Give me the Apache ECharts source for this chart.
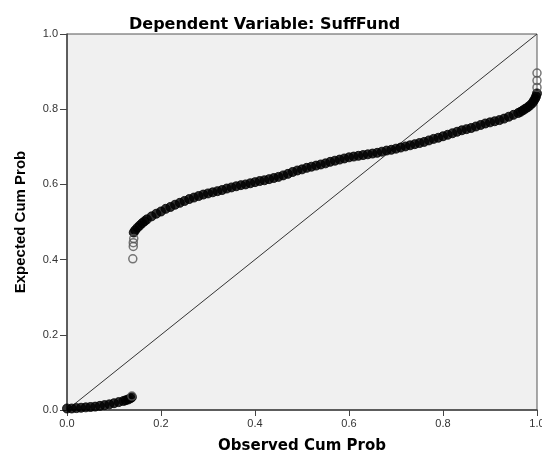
<!DOCTYPE html>
<html>
<head>
<meta charset="utf-8">
<script src="https://cdn.jsdelivr.net/npm/echarts@6/dist/echarts.min.js"></script>
<style>
  html, body { margin: 0; padding: 0; background: #fff; }
  #chartBox { width: 542px; height: 453px; }
</style>
</head>
<body>
<div id="chartBox"></div>
<script>
// P-P 图: Dependent Variable: SuffFund
var axisTicks = [0, 0.2, 0.4, 0.6, 0.8, 1.0];

// 下段 (观测累计概率, 期望累计概率)
var lowerObs = [0.00, 0.01, 0.02, 0.03, 0.04, 0.05, 0.06, 0.07, 0.08, 0.09, 0.10, 0.11, 0.12, 0.125, 0.13, 0.135, 0.138];
var lowerExp = [0.004, 0.004, 0.005, 0.006, 0.007, 0.008, 0.009, 0.011, 0.013, 0.015, 0.018, 0.021, 0.024, 0.026, 0.028, 0.031, 0.034];

// 上段
var upperObs = [0.142, 0.145, 0.15, 0.155, 0.16, 0.165, 0.17, 0.18, 0.19, 0.20, 0.21, 0.22, 0.23, 0.24, 0.25, 0.26, 0.27, 0.28, 0.29,
  0.30, 0.31, 0.32, 0.33, 0.34, 0.35, 0.36, 0.37, 0.38, 0.39, 0.40, 0.41, 0.42, 0.43, 0.44, 0.45, 0.46, 0.47, 0.48, 0.49,
  0.50, 0.51, 0.52, 0.53, 0.54, 0.55, 0.56, 0.57, 0.58, 0.59, 0.60, 0.61, 0.62, 0.63, 0.64, 0.65, 0.66, 0.67, 0.68, 0.69,
  0.70, 0.71, 0.72, 0.73, 0.74, 0.75, 0.76, 0.77, 0.78, 0.79, 0.80, 0.81, 0.82, 0.83, 0.84, 0.85, 0.86, 0.87, 0.88, 0.89,
  0.90, 0.91, 0.92, 0.93, 0.94, 0.95, 0.96, 0.965, 0.97, 0.975, 0.98, 0.985, 0.99, 0.993, 0.996, 0.998, 1.0];
var upperExp = [0.472, 0.478, 0.485, 0.491, 0.497, 0.502, 0.507, 0.515, 0.522, 0.528, 0.535, 0.540, 0.546, 0.551, 0.556, 0.561, 0.565, 0.569, 0.573,
  0.576, 0.579, 0.582, 0.585, 0.589, 0.592, 0.595, 0.598, 0.600, 0.603, 0.606, 0.609, 0.611, 0.614, 0.617, 0.620, 0.624, 0.628, 0.633, 0.637,
  0.640, 0.644, 0.647, 0.650, 0.653, 0.656, 0.660, 0.663, 0.666, 0.669, 0.672, 0.674, 0.676, 0.678, 0.680, 0.682, 0.684, 0.687, 0.690, 0.692,
  0.695, 0.698, 0.701, 0.704, 0.707, 0.710, 0.713, 0.717, 0.721, 0.724, 0.728, 0.732, 0.736, 0.740, 0.744, 0.747, 0.750, 0.754, 0.758, 0.762,
  0.765, 0.768, 0.771, 0.775, 0.780, 0.785, 0.790, 0.793, 0.797, 0.801, 0.805, 0.810, 0.816, 0.822, 0.828, 0.834, 0.842];

// 零散的空心点
var openObs = [0.138, 0.14, 0.141, 0.141, 0.142, 1.0, 1.0, 1.0];
var openExp = [0.037, 0.402, 0.435, 0.445, 0.456, 0.858, 0.876, 0.896];

function pairs(xs, ys) {
  var out = [];
  for (var i = 0; i < xs.length; i++) {
    out.push([xs[i], ys[i]]);
  }
  return out;
}

var axisFont = 'Liberation Sans, Arial, sans-serif';
var wideFont = 'DejaVu Sans, Liberation Sans, sans-serif';

var option = {
  animation: false,
  backgroundColor: '#fff',
  title: {
    text: 'Dependent Variable: SuffFund',
    left: 124,
    top: 12,
    textStyle: {
      color: '#000',
      fontSize: 16,
      fontWeight: 'bold',
      fontFamily: wideFont
    }
  },
  grid: {
    left: 67,
    right: 5,
    top: 34,
    bottom: 43,
    outerBoundsMode: 'none',
    containLabel: false,
    show: true,
    backgroundColor: '#f0f0f0',
    borderColor: '#555',
    borderWidth: 1
  },
  xAxis: {
    type: 'value',
    min: axisTicks[0],
    max: axisTicks[axisTicks.length - 1],
    interval: 0.2,
    name: 'Observed Cum Prob',
    nameLocation: 'middle',
    nameGap: 29,
    nameTextStyle: {
      color: '#000',
      fontSize: 15,
      fontWeight: 'bold',
      fontFamily: wideFont
    },
    axisLine: { show: true, lineStyle: { color: '#444', width: 1.5 } },
    axisTick: { show: true, length: 6, lineStyle: { color: '#444', width: 1 } },
    splitLine: { show: false },
    axisLabel: {
      color: '#333',
      fontSize: 11,
      fontFamily: axisFont,
      margin: 8,
      formatter: function (v) { return v.toFixed(1); }
    }
  },
  yAxis: {
    type: 'value',
    min: axisTicks[0],
    max: axisTicks[axisTicks.length - 1],
    interval: 0.2,
    name: 'Expected Cum Prob',
    nameLocation: 'middle',
    nameGap: 39,
    nameTextStyle: {
      color: '#000',
      fontSize: 15,
      fontWeight: 'bold',
      fontFamily: axisFont
    },
    axisLine: { show: true, lineStyle: { color: '#444', width: 1.5 } },
    axisTick: { show: true, length: 7, lineStyle: { color: '#444', width: 1 } },
    splitLine: { show: false },
    axisLabel: {
      color: '#333',
      fontSize: 11,
      fontFamily: axisFont,
      margin: 9,
      formatter: function (v) { return v.toFixed(1); }
    }
  },
  series: [
    {
      // 参考对角线
      type: 'line',
      data: [[0, 0], [1, 1]],
      symbol: 'none',
      silent: true,
      z: 1,
      lineStyle: { color: '#333', width: 1 }
    },
    {
      type: 'scatter',
      data: pairs(lowerObs, lowerExp),
      symbol: 'circle',
      symbolSize: 9,
      z: 3,
      itemStyle: { color: '#000', borderColor: '#000', borderWidth: 1 }
    },
    {
      type: 'scatter',
      data: pairs(upperObs, upperExp),
      symbol: 'circle',
      symbolSize: 9,
      z: 3,
      itemStyle: { color: '#000', borderColor: '#000', borderWidth: 1 }
    },
    {
      type: 'scatter',
      data: pairs(openObs, openExp),
      symbol: 'circle',
      symbolSize: 8,
      z: 4,
      itemStyle: { color: 'rgba(0,0,0,0)', borderColor: '#555', borderWidth: 1.5 }
    }
  ]
};

var chartDom = document.getElementById('chartBox');
var chart = echarts.init(chartDom);
chart.setOption(option);
</script>
</body>
</html>
